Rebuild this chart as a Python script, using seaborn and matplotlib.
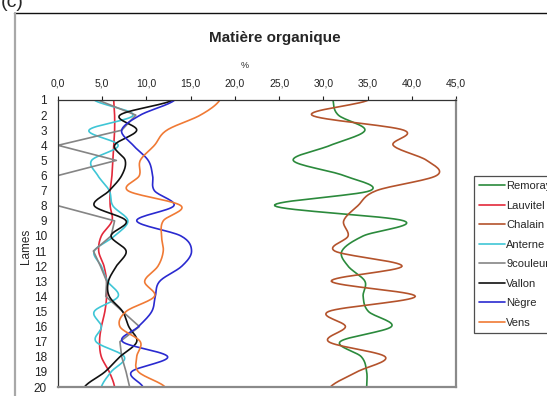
import numpy as np
import pandas as pd
import matplotlib
matplotlib.use("Agg")
import matplotlib.pyplot as plt
from matplotlib.lines import Line2D
import seaborn as sns

# Organic matter (%) measured on each slide ("lame") 1..20, per lake
lames = list(range(1, 21))
remoray = [31.1, 31.7, 34.7, 30.8, 26.6, 32.3, 35.3, 24.5, 39.1, 34.5,
           32.1, 32.8, 34.7, 34.5, 35.1, 37.7, 31.9, 34.3, 34.9, 34.9]
lauvitel = [6.3, 6.4, 6.4, 6.3, 6.2, 6.1, 5.9, 5.9, 6.1, 4.9,
            4.6, 5.2, 5.5, 5.5, 5.3, 4.9, 4.7, 4.9, 5.8, 6.4]
chalain = [35.1, 28.7, 39.1, 37.9, 41.7, 42.8, 36.0, 33.9, 32.3, 32.8,
           31.3, 38.9, 30.9, 40.4, 30.6, 32.5, 30.6, 37.0, 33.8, 30.8]
anterne = [4.1, 8.5, 3.5, 6.8, 3.8, 4.5, 5.8, 6.2, 7.9, 6.4,
           4.1, 4.9, 5.6, 6.8, 4.1, 4.9, 4.3, 7.5, 6.0, 4.9]
neuf_couleurs = [4.5, 8.8, 7.2, 0.0, 6.6, 0.0, 0.0, 0.0, 6.4, 6.0,
                 4.0, 4.8, 5.5, 5.4, 7.3, 9.2, 7.0, 7.2, 7.7, 8.1]
vallon = [13.0, 7.0, 8.9, 6.4, 7.6, 7.2, 5.8, 4.1, 7.7, 6.0,
          7.7, 6.6, 5.7, 5.8, 7.3, 8.0, 8.9, 7.0, 5.3, 3.0]
negre = [13.2, 9.3, 7.2, 8.5, 10.2, 10.7, 10.9, 13.1, 8.9, 13.9,
         15.1, 14.0, 11.5, 11.0, 10.6, 9.1, 7.3, 12.4, 8.3, 9.6]
vens = [18.3, 16.1, 12.3, 10.9, 9.3, 9.2, 7.9, 13.9, 11.9, 11.7,
        11.9, 11.3, 9.8, 10.9, 7.7, 7.0, 9.3, 8.9, 9.1, 12.1]

x_ticks = [0, 5, 10, 15, 20, 25, 30, 35, 40, 45]
x_tick_labels = ["0,0", "5,0", "10,0", "15,0", "20,0", "25,0", "30,0", "35,0", "40,0", "45,0"]

series = [
    ("Remoray", remoray, "#2b8a3c", True),
    ("Lauvitel", lauvitel, "#e3293b", True),
    ("Chalain", chalain, "#b4532c", True),
    ("Anterne", anterne, "#3fc6d6", True),
    ("9couleur", neuf_couleurs, "#858585", False),
    ("Vallon", vallon, "#111111", True),
    ("Nègre", negre, "#2a2ad0", True),
    ("Vens", vens, "#f07a35", True),
]


def smooth_curve(values, depth, steps=16):
    """Catmull-Rom curve through (value, depth) pairs, like a smoothed line chart."""
    v = np.asarray(values, float)
    d = np.asarray(depth, float)
    n = len(v)
    xs, ys = [], []
    for i in range(n - 1):
        p0 = v[i - 1] if i > 0 else v[i]
        p1, p2 = v[i], v[i + 1]
        p3 = v[i + 2] if i + 2 < n else v[i + 1]
        m1 = (p2 - p0) / 2.0
        m2 = (p3 - p1) / 2.0
        t = np.linspace(0, 1, steps, endpoint=(i == n - 2))
        h00 = 2 * t**3 - 3 * t**2 + 1
        h10 = t**3 - 2 * t**2 + t
        h01 = -2 * t**3 + 3 * t**2
        h11 = t**3 - t**2
        xs.append(h00 * p1 + h10 * m1 + h01 * p2 + h11 * m2)
        ys.append(d[i] + t * (d[i + 1] - d[i]))
    return np.concatenate(xs), np.concatenate(ys)


sns.set_style("white")
plt.rcParams["font.family"] = ["Liberation Sans", "DejaVu Sans"]

W, H = 547, 396
fig = plt.figure(figsize=(W / 100, H / 100), dpi=100)
ax = fig.add_axes([58 / W, 1 - 387 / H, (456 - 58) / W, (387 - 100) / H])

for name, vals, color, smooth in series:
    if smooth:
        cx, cy = smooth_curve(vals, lames)
    else:
        cx, cy = np.asarray(vals, float), np.asarray(lames, float)
    df = pd.DataFrame({"val": cx, "lame": cy})
    sns.lineplot(data=df, x="val", y="lame", sort=False, estimator=None,
                 color=color, lw=1.2, ax=ax, label=name, legend=False)

ax.set_xlim(0, 45)
ax.set_ylim(20, 1)
ax.xaxis.tick_top()
ax.set_xticks(x_ticks)
ax.set_xticklabels(x_tick_labels, fontsize=7.5)
ax.set_yticks(lames)
ax.set_yticklabels([str(l) for l in lames], fontsize=8.5)
ax.tick_params(axis="x", direction="out", length=3, width=0.8, pad=5, colors="#222222")
ax.tick_params(axis="y", direction="out", length=3, width=0.8, pad=5, colors="#222222")
ax.set_xlabel("")
ax.set_ylabel("")

for side in ("left", "top"):
    ax.spines[side].set_color("#333333")
    ax.spines[side].set_linewidth(0.9)
for side in ("right", "bottom"):
    ax.spines[side].set_color("#8a8a8a")
    ax.spines[side].set_linewidth(1.6)

# Titles and axis captions
fig.text(275 / W, 1 - 38 / H, "Matière organique", ha="center", va="center",
         fontsize=11, fontweight="bold")
fig.text(245 / W, 1 - 65 / H, "%", ha="center", va="center", fontsize=6.5)
fig.text(26 / W, 1 - 246 / H, "Lames", ha="center", va="center",
         fontsize=8.5, rotation=90)
fig.text(1 / W, 1 - 7 / H, "(c)", ha="left", va="baseline", fontsize=14)

# Chart-area frame
fig.add_artist(Line2D([14 / W, 1.0], [1 - 13 / H, 1 - 13 / H],
                      transform=fig.transFigure, color="#111111", lw=1.0))
fig.add_artist(Line2D([15 / W, 15 / W], [1 - 13 / H, 0.0],
                      transform=fig.transFigure, color="#a8a8a8", lw=1.6))

handles = [Line2D([], [], color=c, lw=1.2) for _, _, c, _ in series]
labels = [n for n, _, _, _ in series]
leg = fig.legend(handles, labels, loc="upper left",
                 bbox_to_anchor=(474 / W, 1 - 176 / H),
                 bbox_transform=fig.transFigure,
                 fontsize=8, frameon=True, fancybox=False,
                 handlelength=2.3, handletextpad=0.15, labelspacing=0.86,
                 borderpad=0.45, borderaxespad=0.0)
leg.get_frame().set_edgecolor("#222222")
leg.get_frame().set_linewidth(0.9)

fig.savefig("out.png", dpi=100)
